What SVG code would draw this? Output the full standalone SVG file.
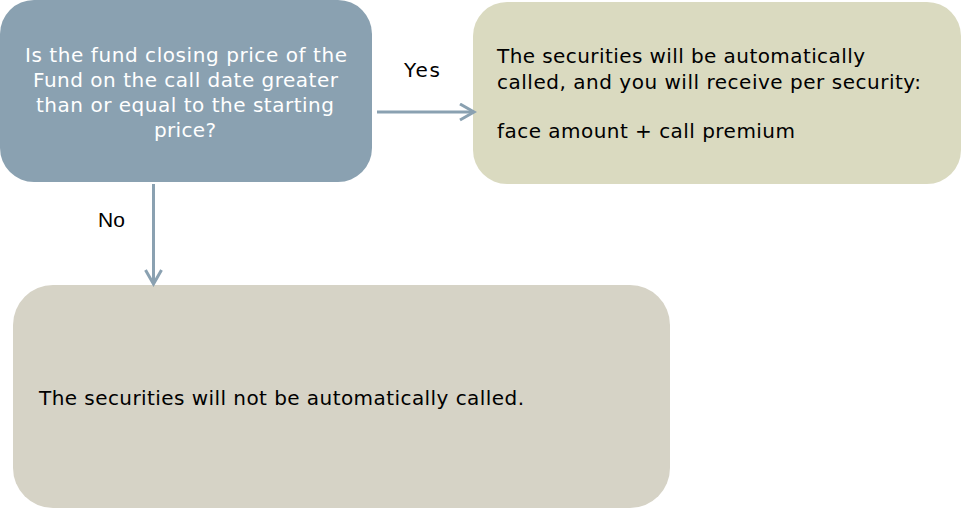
<svg xmlns="http://www.w3.org/2000/svg" width="961" height="510" viewBox="0 0 961 510">
<defs>
<style>
.t{font-family:"DejaVu Sans","Verdana",sans-serif;font-size:20px;}
.w{fill:#ffffff;}
.k{fill:#000000;}
.c{stroke:#8aa1b1;stroke-width:3;fill:none;}
</style>
<marker id="ah" markerWidth="18" markerHeight="20" refX="15" refY="9" orient="auto" markerUnits="userSpaceOnUse">
<path d="M1,1 L15,9 L1,17" fill="none" stroke="#8aa1b1" stroke-width="3"/>
</marker>
</defs>
<rect width="961" height="510" fill="#ffffff"/>
<g id="question">
<rect x="0" y="0" width="372" height="182" rx="34" fill="#8aa1b1"/>
<text class="t w">
<tspan x="25" y="62" textLength="322" lengthAdjust="spacing">Is the fund closing price of the</tspan>
<tspan x="33" y="87" textLength="305" lengthAdjust="spacing">Fund on the call date greater</tspan>
<tspan x="36" y="112" textLength="298" lengthAdjust="spacing">than or equal to the starting</tspan>
<tspan x="154" y="137" textLength="62" lengthAdjust="spacing">price?</tspan>
</text>
</g>
<g id="yes-result">
<rect x="473" y="2" width="488" height="182" rx="34" fill="#dadac0"/>
<text class="t k">
<tspan x="497" y="63" textLength="368" lengthAdjust="spacing">The securities will be automatically</tspan>
<tspan x="497" y="89" textLength="424" lengthAdjust="spacing">called, and you will receive per security:</tspan>
<tspan x="497" y="138" textLength="298" lengthAdjust="spacing">face amount + call premium</tspan>
</text>
</g>
<g id="no-result">
<rect x="13" y="285" width="657" height="223" rx="40" fill="#d6d3c6"/>
<text class="t k" x="39" y="405" textLength="485" lengthAdjust="spacing">The securities will not be automatically called.</text>
</g>
<g id="connectors">
<line class="c" x1="377" y1="112" x2="474" y2="112" marker-end="url(#ah)"/>
<line class="c" x1="153.5" y1="184" x2="153.5" y2="284" marker-end="url(#ah)"/>
<text class="t k" x="404" y="77" textLength="36" lengthAdjust="spacing">Yes</text>
<text x="98" y="227" style="font-family:'Liberation Sans',Arial,sans-serif;font-size:21px;fill:#000">No</text>
</g>
</svg>
